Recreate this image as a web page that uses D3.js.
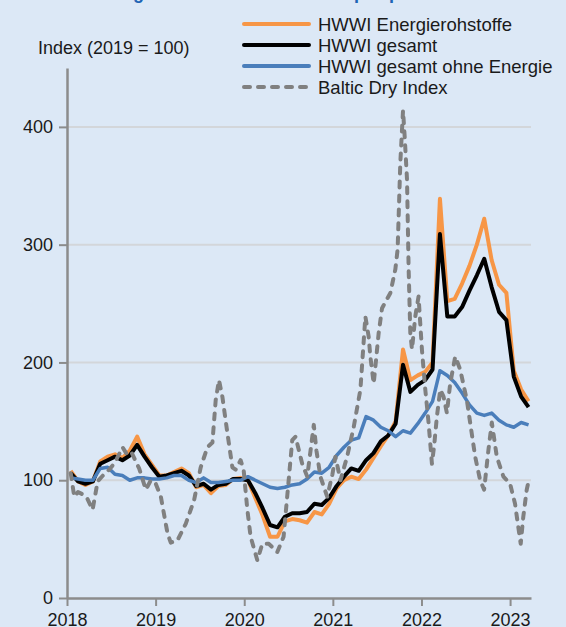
<!DOCTYPE html>
<html>
<head>
<meta charset="utf-8">
<script src="https://cdn.jsdelivr.net/npm/d3@7"></script>
<style>
html, body { margin: 0; padding: 0; background: #dce8f6; }
svg { display: block; font-family: "Liberation Sans", Arial, sans-serif; }
</style>
</head>
<body>
<svg id="chart" width="566" height="627"></svg>
<script>
// monthly values Jan 2018 - Mar 2023
var energie = [108, 99, 96, 99, 116, 120, 122, 119, 125, 137, 122, 113,
    104, 104, 107, 110, 106, 94, 96, 89, 95, 96, 101, 102,
    100, 85, 70, 52, 52, 65, 67, 66, 64, 73, 71, 80,
    93, 100, 103, 101, 109, 119, 129, 138, 150, 211, 185, 189,
    192, 200, 339, 252, 254, 267, 282, 300, 322, 287, 266, 259,
    193, 177, 167];
var gesamt = [106, 99, 97, 99, 114, 117, 120, 117, 121, 130, 120, 111,
    103, 104, 106, 108, 104, 95, 97, 92, 96, 97, 101, 101,
    100, 89, 76, 62, 60, 69, 72, 72, 73, 80, 79, 85,
    95, 103, 110, 108, 117, 123, 133, 138, 148, 198, 175, 181,
    185, 194, 309, 239, 239, 247, 261, 274, 288, 264, 243, 236,
    188, 171, 162];
var ohneEnergie = [102, 101, 100, 100, 110, 111, 105, 104, 100, 102, 102, 101,
    101, 102, 104, 104, 100, 98, 102, 98, 98, 99, 100, 100,
    103, 100, 97, 94, 93, 94, 96, 97, 101, 107, 106, 111,
    121, 128, 134, 136, 154, 151, 145, 142, 137, 142, 140, 148,
    157, 167, 193, 189, 183, 174, 164, 157, 155, 157, 151, 147,
    145, 149, 147];

// Baltic Dry Index, irregular dates (decimal years)
var bdiTime = [2018.042, 2018.082, 2018.124, 2018.177, 2018.225, 2018.289, 2018.346, 2018.405,
    2018.476, 2018.541, 2018.627, 2018.684, 2018.732, 2018.814, 2018.890, 2018.946,
    2019.002, 2019.059, 2019.134, 2019.171, 2019.247, 2019.340, 2019.434, 2019.509,
    2019.584, 2019.641, 2019.678, 2019.715, 2019.753, 2019.810, 2019.866, 2019.903,
    2019.959, 2019.993, 2020.035, 2020.072, 2020.148, 2020.204, 2020.278, 2020.373,
    2020.444, 2020.542, 2020.579, 2020.654, 2020.711, 2020.785, 2020.815, 2020.860,
    2020.936, 2020.995, 2021.029, 2021.086, 2021.161, 2021.235, 2021.311, 2021.367,
    2021.404, 2021.423, 2021.461, 2021.517, 2021.555, 2021.649, 2021.705, 2021.731,
    2021.761, 2021.780, 2021.792, 2021.812, 2021.837, 2021.855, 2021.874, 2021.893,
    2021.930, 2021.967, 2022.006, 2022.043, 2022.080, 2022.118, 2022.144, 2022.174,
    2022.212, 2022.249, 2022.287, 2022.324, 2022.381, 2022.437, 2022.512, 2022.606,
    2022.662, 2022.707, 2022.756, 2022.794, 2022.850, 2022.925, 2023.000, 2023.056,
    2023.093, 2023.120, 2023.149, 2023.188, 2023.211];
var bdiValues = [106, 86, 90, 88, 85, 75, 99, 104,
    109, 115, 128, 121, 123, 110, 92, 100,
    97, 86, 55, 47, 49, 63, 83, 111,
    128, 132, 168, 185, 171, 140, 111, 109,
    117, 109, 75, 52, 32, 46, 46, 39,
    52, 134, 137, 114, 103, 147, 125, 103,
    86, 105, 120, 100, 120, 145, 177, 239,
    222, 205, 182, 225, 246, 259, 279, 296,
    369, 397, 414, 390, 355, 280, 225, 211,
    239, 256, 210, 177, 149, 114, 130, 154,
    177, 171, 157, 182, 205, 194, 168, 120,
    100, 92, 126, 149, 120, 103, 97, 80,
    60, 46, 69, 92, 100];

var yearTicks = [2018, 2019, 2020, 2021, 2022, 2023];
var yTicks = [0, 100, 200, 300, 400];
var seriesNames = ["HWWI Energierohstoffe", "HWWI gesamt", "HWWI gesamt ohne Energie", "Baltic Dry Index"];
var seriesColors = ["#f79646", "#000000", "#4a7ebb", "#808080"];

var svg = d3.select("#chart");
var plotLeft = 67, plotRight = 531, plotTop = 68, plotBottom = 598;

var x = d3.scaleLinear().domain([2018, 2023.236]).range([plotLeft, plotRight]);
var y = d3.scaleLinear().domain([0, 450]).range([plotBottom, plotTop]);

function monthTime(i) { return 2018 + (i + 0.5) / 12; }

// title (mostly outside the picture)
svg.append("text")
    .attr("y", -1)
    .attr("fill", "#1e64b4")
    .attr("font-weight", "bold")
    .attr("font-size", "18px")
    .selectAll("tspan")
    .data([["Entwicklung der Rohstoff-", 38], ["und Transportpreise", 268]])
    .join("tspan")
    .attr("x", function(d) { return d[1]; })
    .text(function(d) { return d[0]; });

// grid
svg.append("g").selectAll("line")
    .data(yTicks.filter(function(d) { return d > 0; }))
    .join("line")
    .attr("x1", plotLeft).attr("x2", plotRight)
    .attr("y1", function(d) { return y(d); })
    .attr("y2", function(d) { return y(d); })
    .attr("stroke", "#d3d6da")
    .attr("stroke-width", 2);

// axes
var yAxis = svg.append("g")
    .attr("transform", "translate(" + plotLeft + ",0)")
    .call(d3.axisLeft(y).tickValues(yTicks).tickSize(8).tickPadding(6).tickSizeOuter(0));
var xAxis = svg.append("g")
    .attr("transform", "translate(0," + plotBottom + ")")
    .call(d3.axisBottom(x).tickValues(yearTicks).tickFormat(d3.format("d")).tickSize(8).tickPadding(7).tickSizeOuter(0));
[yAxis, xAxis].forEach(function(a) {
    a.select(".domain").attr("stroke", "#8c8c8c").attr("stroke-width", 2.5);
    a.selectAll(".tick line").attr("stroke", "#8c8c8c").attr("stroke-width", 2);
    a.selectAll(".tick text").attr("fill", "#1a1a1a").attr("font-size", "18px")
        .attr("font-family", "Liberation Sans, Arial, sans-serif");
});

svg.append("text")
    .attr("x", 38).attr("y", 54)
    .attr("font-size", "18px").attr("fill", "#1a1a1a")
    .text("Index (2019 = 100)");

// lines
var monthLine = d3.line()
    .x(function(d, i) { return x(monthTime(i)); })
    .y(function(d) { return y(d); });

[energie, gesamt, ohneEnergie].forEach(function(s, k) {
    svg.append("path")
        .datum(s)
        .attr("d", monthLine)
        .attr("fill", "none")
        .attr("stroke", seriesColors[k])
        .attr("stroke-width", k == 2 ? 3.5 : 4)
        .attr("stroke-linejoin", "round");
});

var bdi = bdiTime.map(function(t, i) { return [t, bdiValues[i]]; });
svg.append("path")
    .datum(bdi)
    .attr("d", d3.line().x(function(d) { return x(d[0]); }).y(function(d) { return y(d[1]); }))
    .attr("fill", "none")
    .attr("stroke", seriesColors[3])
    .attr("stroke-width", 4)
    .attr("stroke-dasharray", "6,8")
    .attr("stroke-linecap", "round")
    .attr("stroke-linejoin", "round");

// legend
var legend = svg.append("g").selectAll("g")
    .data(seriesNames)
    .join("g")
    .attr("transform", function(d, i) { return "translate(242," + (24 + i * 21) + ")"; });
legend.append("line")
    .attr("x1", 2).attr("x2", 67)
    .attr("stroke", function(d, i) { return seriesColors[i]; })
    .attr("stroke-width", 4)
    .attr("stroke-linecap", "round")
    .attr("stroke-dasharray", function(d, i) { return i == 3 ? "6,8" : null; });
legend.append("text")
    .attr("x", 76).attr("y", 7)
    .attr("font-size", "18.5px").attr("fill", "#1a1a1a")
    .text(function(d) { return d; });
</script>
</body>
</html>
